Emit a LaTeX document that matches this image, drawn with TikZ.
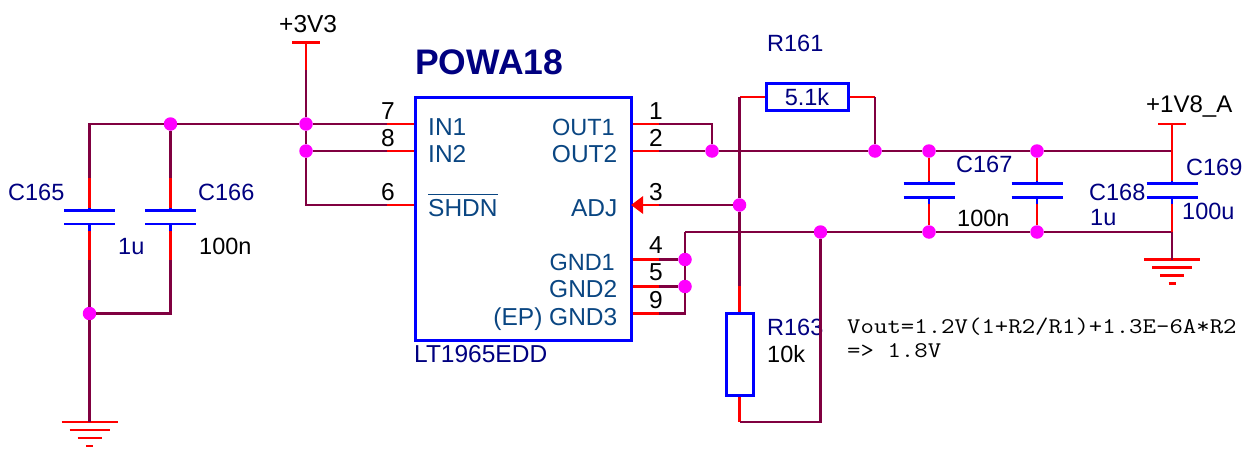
\documentclass[tikz,border=0pt]{standalone}
\usepackage{fontspec}
\setmainfont{Liberation Sans}
\usetikzlibrary{positioning,calc,arrows.meta}
\definecolor{wirecol}{RGB}{128,0,64}
\definecolor{refcol}{RGB}{0,0,128}
\definecolor{pincol}{RGB}{10,70,130}
\definecolor{dotcol}{RGB}{255,0,255}

\begin{document}
\begin{tikzpicture}[
    x=1pt, y=-1pt,
    wire/.style={draw=wirecol, line width=2.8pt},
    stub/.style={draw=red, line width=2.8pt},
    plate/.style={draw=blue, line width=2.8pt},
    part/.style={rectangle, draw=blue, line width=3pt, fill=white, inner sep=0pt},
    dot/.style={circle, fill=dotcol, inner sep=0pt, minimum size=13.5pt},
    txt/.style={inner sep=0pt, font=\fontsize{23.5}{24}\selectfont, anchor=base west},
    widetxt/.style={font=\fontsize{24.5}{25}\selectfont},
    narrowtxt/.style={font=\fontsize{23.5}{24}\selectfont},
    refdes/.style={txt, text=refcol},
    value/.style={txt, text=black},
    pinnum/.style={txt, text=black, anchor=base, widetxt},
    pinname/.style={txt, text=pincol, widetxt},
    pinright/.style={pinname, anchor=base east},
    formula_txt/.style={txt, xscale=1.164, transform shape, font=\fontsize{22.4}{24}\selectfont\ttfamily},
    capsym/.pic={
        \draw[plate] (-25.5,0) -- (25.5,0);
        \draw[plate] (-25.5,13.5) -- (25.5,13.5);
        \draw[plate] (0,-3) coordinate (-a) -- (0,0);
        \draw[plate] (0,13.5) -- (0,20.5) coordinate (-b);
    },
    gndsym/.pic={
        \coordinate (-o) at (0,0);
        \draw[stub] (-28,0) -- (28,0);
        \draw[stub] (-20,8) -- (20,8);
        \draw[stub] (-12,16) -- (12,16);
        \draw[stub] (-3.5,24) -- (3.5,24);
    }
]
\useasboundingbox (0,0) rectangle (1255,450);

% Regulator
\node[part, minimum width=216pt, minimum height=243pt] (powa) at (523,218.5) {};
\node[txt, text=refcol, font=\fontsize{35.5}{36}\selectfont\bfseries] (powa_name) at (415,74) {POWA18};
\node[refdes, widetxt] (powa_type) at (414,362.7) {LT1965EDD};
\node[pinname] (in1) at (428,135) {IN1};
\node[pinname] (in2) at (428,162) {IN2};
\node[pinname] (shdn) at (428,216) {SHDN};
\draw[pincol, line width=1.2pt] ($(shdn.north west)+(0,-4.5)$) -- ($(shdn.north east)+(0,-4.5)$);
\node[pinright, narrowtxt] (out1) at (615,135) {OUT1};
\node[pinright] (out2) at (617.5,162) {OUT2};
\node[pinright] (adj) at (617.5,216) {ADJ};
\node[pinright, narrowtxt] (gnd1) at (615,270) {GND1};
\node[pinright] (gnd2) at (617.5,297.7) {GND2};
\node[pinright] (gnd3) at (617.5,325) {(EP) GND3};

% Pin numbers
\node[pinnum] (n7) at (388,119) {7};
\node[pinnum] (n8) at (388,146) {8};
\node[pinnum] (n6) at (388,200) {6};
\node[pinnum] (n1) at (656,119) {1};
\node[pinnum] (n2) at (656,146) {2};
\node[pinnum] (n3) at (656,200) {3};
\node[pinnum] (n4) at (656,253) {4};
\node[pinnum] (n5) at (656,280.7) {5};
\node[pinnum] (n9) at (656,308) {9};

% Resistors
\node[part, minimum width=82pt, minimum height=27pt, text=refcol, font=\fontsize{23.5}{24}\selectfont] (r161) at (807,97) {5.1k};
\node[part, minimum width=27pt, minimum height=82pt] (r163) at (739.5,354) {};

% Junctions
\node[dot] (jin1) at (170.5,124) {};
\node[dot] (jin2) at (306,124) {};
\node[dot] (jin3) at (306,151) {};
\node[dot] (jlow) at (89.5,313.5) {};
\node[dot] (jout) at (712,151) {};
\node[dot] (jadj) at (739.5,205) {};
\node[dot] (jr161) at (875,151) {};
\node[dot] (j167a) at (929,151) {};
\node[dot] (j168a) at (1037,151) {};
\node[dot] (j4) at (685,259.5) {};
\node[dot] (j5) at (685,286.5) {};
\node[dot] (jgnd) at (820.5,232) {};
\node[dot] (j167b) at (929,232) {};
\node[dot] (j168b) at (1037,232) {};

% Capacitors
\pic (c165) at (89.5,210.5) {capsym};
\pic (c166) at (170.5,210.5) {capsym};
\pic (c167) at (929,183.7) {capsym};
\pic (c168) at (1037,183.7) {capsym};
\pic (c169) at (1172,183.7) {capsym};

% Ground symbols
\pic (gndl) at (89.5,422) {gndsym};
\pic (gndr) at (1172,259.5) {gndsym};

% Part labels
\node[refdes] (c165_name) at (8,200) {C165};
\node[refdes] (c166_name) at (198,200) {C166};
\node[refdes] (c165_val) at (118,254) {1u};
\node[value] (c166_val) at (199,254) {100n};
\node[refdes] (c167_name) at (956,172.7) {C167};
\node[value] (c167_val) at (957,226.7) {100n};
\node[refdes] (c168_name) at (1089,200) {C168};
\node[refdes] (c168_val) at (1090,225) {1u};
\node[refdes] (c169_name) at (1186,175.7) {C169};
\node[refdes] (c169_val) at (1182,219) {100u};
\node[refdes] (r161_name) at (767,51) {R161};
\node[refdes] (r163_name) at (767,335) {R163};
\node[value] (r163_val) at (767,362.7) {10k};
\node[value, widetxt] (vcc_name) at (279,32) {+3V3};
\node[value, font=\fontsize{24}{25}\selectfont] (vout_name) at (1146,112.7) {+1V8\_A};

% Formula
\node[formula_txt] (formula) at (847,333) {Vout=1.2V(1+R2/R1)+1.3E-6A*R2};
\node[formula_txt] (result) at (847,357) {=> 1.8V};

% Free wire ends
\coordinate (vcc_top) at (306,42.5);
\coordinate (vcc_low) at (306,70);
\coordinate (p7) at (387,124);
\coordinate (p8) at (387,151);
\coordinate (p6) at (387,205);
\coordinate (p1) at (659,124);
\coordinate (p2) at (659,151);
\coordinate (p3) at (659,205);
\coordinate (p4) at (659,259.5);
\coordinate (p5) at (659,286.5);
\coordinate (p9) at (659,313.5);
\coordinate (c165_up) at (89.5,178);
\coordinate (c165_dn) at (89.5,260);
\coordinate (c166_up) at (170.5,178);
\coordinate (c166_dn) at (170.5,260);
\coordinate (vout_top) at (1172,124);
\coordinate (vout_tap) at (1172,151);
\coordinate (gnd_tap) at (1172,232);
\coordinate (r161_lead) at (739.5,97);
\coordinate (r161_end) at (875,97);
\coordinate (r163_up) at (739.5,286);
\coordinate (r163_dn) at (739.5,422);
\coordinate (gnd_in) at (685,232);

% Supply and input side
\draw[stub] ($(vcc_top)+(-14,0)$) -- ($(vcc_top)+(14,0)$);
\draw[stub] (vcc_top) -- (vcc_low);
\draw[wire] (vcc_low) -- (jin2);
\draw[wire] (jin2) -- (jin3);
\draw[wire] (jin2) -- (p7);
\draw[wire] (jin3) -- (p8);
\draw[wire] (jin3) |- (p6);
\draw[wire] (jin1) -- (jin2);
\draw[wire] (jin1) -| (c165_up);
\draw[wire] (jin1) -- (c166_up);
\draw[stub] (c165_up) -- (c165-a);
\draw[stub] (c166_up) -- (c166-a);
\draw[stub] (c165-b) -- (c165_dn);
\draw[stub] (c166-b) -- (c166_dn);
\draw[wire] (c165_dn) -- (jlow);
\draw[wire] (jlow) -| (c166_dn);
\draw[wire] (jlow) -- (gndl-o);
\draw[stub] (p7) -- (powa.west |- p7);
\draw[stub] (p8) -- (powa.west |- p8);
\draw[stub] (p6) -- (powa.west |- p6);

% Output side
\draw[stub] (powa.east |- p1) -- (p1);
\draw[stub] (powa.east |- p2) -- (p2);
\draw[stub, -{Triangle[length=12pt,width=17pt]}, shorten >=-1.5pt] (p3) -- (powa.east |- p3);
\draw[stub] (powa.east |- p4) -- (p4);
\draw[stub] (powa.east |- p5) -- (p5);
\draw[stub] (powa.east |- p9) -- (p9);
\draw[wire] (p1) -| (jout);
\draw[wire] (p2) -- (jout);
\draw[wire] (p3) -- (jadj);
\draw[wire] (p4) -- (j4);
\draw[wire] (p5) -- (j5);
\draw[wire] (p9) -| (j5);
\draw[wire] (j4) -- (j5);
\draw[wire] (j4) -- (gnd_in);
\draw[wire] (gnd_in) -- (jgnd);
\draw[wire] (jout) -- (jr161);
\draw[wire] (jr161) -- (j167a);
\draw[wire] (j167a) -- (j168a);
\draw[wire] (j168a) -- (vout_tap);
\draw[wire] (jgnd) -- (j167b);
\draw[wire] (j167b) -- (j168b);
\draw[wire] (j168b) -- (gnd_tap);
\draw[wire] (gnd_tap) -- (gndr-o);

% Feedback divider
\draw[stub] (r161.west) -- (r161_lead);
\draw[stub] (r161.east) -- (r161_end);
\draw[wire] (r161_end) -- (jr161);
\draw[wire] (r161_lead) -- (jadj);
\draw[wire] (jadj) -- (r163_up);
\draw[stub] (r163_up) -- (r163.north);
\draw[stub] (r163.south) -- (r163_dn);
\draw[wire] (r163_dn) -| (jgnd);

% Capacitor leads on the right
\draw[stub] (j167a) -- (c167-a);
\draw[stub] (j168a) -- (c168-a);
\draw[stub] (c167-b) -- (j167b);
\draw[stub] (c168-b) -- (j168b);
\draw[stub] ($(vout_top)+(-14,0)$) -- ($(vout_top)+(14,0)$);
\draw[stub] (vout_top) -- (c169-a);
\draw[stub] (c169-b) -- (gnd_tap);

\end{tikzpicture}
\end{document}
